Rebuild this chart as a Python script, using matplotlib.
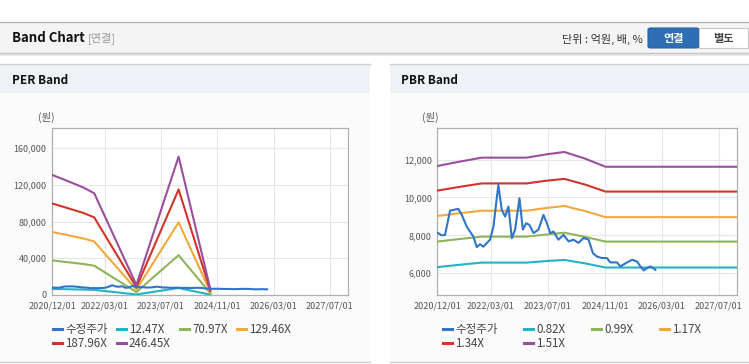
import numpy as np
import pandas as pd
import matplotlib
matplotlib.use("Agg")
from matplotlib import pyplot as plt
from matplotlib.patches import Rectangle, FancyBboxPatch
from matplotlib.ticker import FuncFormatter
import matplotlib.dates as mdates

plt.rcParams['font.family'] = ['Noto Sans CJK KR', 'DejaVu Sans']

W, H = 749, 364

# 수정주가 (adjusted price)
price_dates = ['2020-12-01', '2021-01-08', '2021-02-05', '2021-03-20', '2021-05-29', '2021-06-28',
               '2021-08-09', '2021-10-05', '2021-11-03', '2021-12-01', '2021-12-29', '2022-02-24',
               '2022-03-25', '2022-05-06', '2022-06-04', '2022-07-03', '2022-07-31', '2022-08-29',
               '2022-09-26', '2022-11-02', '2022-12-01', '2022-12-29', '2023-01-26', '2023-03-02',
               '2023-04-13', '2023-05-26', '2023-06-24', '2023-07-22', '2023-08-19', '2023-10-01',
               '2023-11-13', '2023-12-26', '2024-02-06', '2024-03-20', '2024-05-02', '2024-06-14',
               '2024-07-21', '2024-08-24', '2024-10-06', '2024-11-18', '2024-12-16', '2025-02-11',
               '2025-03-12', '2025-05-08', '2025-06-20', '2025-08-01', '2025-08-30', '2025-09-27',
               '2025-10-26', '2025-11-23', '2025-12-16', '2026-01-05']
price = [8140, 8000, 8020, 9300, 9400, 9080, 8460, 7930, 7380, 7530, 7400, 7770,
         8460, 10660, 9340, 8990, 9520, 7850, 8300, 9960, 8300, 8640, 8550, 8120,
         8300, 9080, 8640, 8120, 8200, 7770, 8030, 7680, 7770, 7600, 7860, 7770,
         7060, 6880, 6800, 6800, 6570, 6570, 6360, 6570, 6710, 6620, 6360, 6150,
         6270, 6360, 6270, 6180]

# PER band
per_dates = ['2020-12-01', '2021-03-01', '2021-06-01', '2021-09-01', '2021-12-01',
             '2022-12-01', '2023-12-01', '2024-09-01']
per_labels = ['12.47X', '70.97X', '129.46X', '187.96X', '246.45X']
per_12 = [6620, 6400, 6160, 5920, 5610, 560, 7630, 300]
per_70 = [37700, 36400, 35100, 33700, 31900, 3190, 43400, 1700]
per_129 = [68700, 66400, 64000, 61500, 58300, 5830, 79200, 3100]
per_187 = [99800, 96400, 92900, 89300, 84600, 8460, 115000, 4500]
per_246 = [130900, 126500, 121800, 117000, 110900, 11000, 150800, 6000]

# PBR band
pbr_dates = ['2020-12-01', '2021-06-01', '2021-12-15', '2023-01-01', '2023-06-15',
             '2023-11-20', '2024-05-15', '2024-11-05', '2027-12-05']
pbr_labels = ['0.82X', '0.99X', '1.17X', '1.34X', '1.51X']
pbr_082 = [6320, 6440, 6560, 6560, 6640, 6700, 6520, 6300, 6300]
pbr_099 = [7670, 7800, 7930, 7930, 8040, 8140, 7920, 7670, 7670]
pbr_117 = [9020, 9160, 9300, 9300, 9440, 9550, 9280, 8960, 8960]
pbr_134 = [10360, 10550, 10740, 10740, 10880, 10980, 10680, 10310, 10310]
pbr_151 = [11660, 11880, 12100, 12100, 12270, 12400, 12050, 11620, 11620]

x_ticks = ['2020-12-01', '2022-03-01', '2023-07-01', '2024-11-01', '2026-03-01', '2027-07-01']

price_color = '#3174c8'
band_colors = ['#22b4c4', '#8db45a', '#f2a83c', '#d0342b', '#994f9b']


def fx(px):
    return px / W


def fy(py):
    return 1 - py / H


def rect(fig, x0, y0, x1, y1, **kw):
    fig.patches.append(Rectangle((fx(x0), fy(y1)), fx(x1) - fx(x0), fy(y0) - fy(y1),
                                 transform=fig.transFigure, figure=fig, **kw))


def hline(fig, x0, x1, y, color='#bdbdbd', lw=1.0):
    fig.add_artist(plt.Line2D([fx(x0), fx(x1)], [fy(y), fy(y)], transform=fig.transFigure,
                              color=color, lw=lw))


def band_axes(fig, box, ylim, yticks, bands, band_labels, dates, leg_x, colsp):
    l, t, r, b = box
    ax = fig.add_axes([fx(l), fy(b), fx(r) - fx(l), fy(t) - fy(b)])
    ax.set_zorder(5)
    ax.set_facecolor('white')
    d = pd.to_datetime(dates)
    handles = []
    for vals, c, lab in zip(bands, band_colors, band_labels):
        h, = ax.plot(d, vals, color=c, lw=1.5, label=lab, zorder=3)
        handles.append(h)
    hp, = ax.plot(pd.to_datetime(price_dates), price, color=price_color, lw=1.5,
                  label='수정주가', zorder=4)
    ax.set_xlim(pd.Timestamp('2020-12-01'), pd.Timestamp('2027-12-05'))
    ax.set_ylim(*ylim)
    ax.set_yticks(yticks)
    ax.yaxis.set_major_formatter(FuncFormatter(lambda v, p: f'{v:,.0f}'))
    ax.set_xticks(pd.to_datetime(x_ticks))
    ax.xaxis.set_major_formatter(mdates.DateFormatter('%Y/%m/%d'))
    ax.grid(True, color='#e6e6e6', lw=0.8, zorder=0)
    ax.set_axisbelow(True)
    for s in ax.spines.values():
        s.set_color('#b0b0b0')
        s.set_linewidth(0.9)
    ax.tick_params(length=0, labelsize=6.5, labelcolor='#555555')
    ax.tick_params(axis='x', pad=5)
    ax.tick_params(axis='y', pad=4)
    # legend is filled column by column; order so it reads row by row
    hs = [hp] + handles
    labs = ['수정주가'] + band_labels
    order = [0, 4, 1, 5, 2, 3]
    leg = fig.legend([hs[i] for i in order], [labs[i] for i in order], ncol=4,
                     loc='upper left', bbox_to_anchor=(fx(leg_x), fy(323)),
                     frameon=False, fontsize=8.3, handlelength=0.8, handletextpad=0.25,
                     columnspacing=colsp, labelspacing=0.1, borderaxespad=0, borderpad=0)
    leg.set_zorder(6)
    for ln in leg.get_lines():
        ln.set_linewidth(2.2)
    for tx in leg.get_texts():
        tx.set_color('#444444')
    return ax


fig = plt.figure(figsize=(W / 100, H / 100), dpi=100)
fig.patch.set_facecolor('white')

# top header bar
rect(fig, 0, 22, W, 53, facecolor='#f4f4f4', edgecolor='none')
rect(fig, 0, 53, W, 56, facecolor='#e8e8e8', edgecolor='none')
hline(fig, 0, W, 22, color='#b3b3b3')
hline(fig, 0, W, 53, color='#c4c4c4')
fig.text(fx(12), fy(38), 'Band Chart', fontsize=9.5, fontweight='bold', va='center', color='#111111')
fig.text(fx(88), fy(38), '[연결]', fontsize=8, va='center', color='#999999')
fig.text(fx(643), fy(39), '단위 : 억원, 배, %', fontsize=8, va='center', ha='right', color='#333333')
fig.patches.append(FancyBboxPatch((fx(648), fy(48)), fx(51), fy(28) - fy(48),
                                  boxstyle='round,pad=0,rounding_size=0.004',
                                  transform=fig.transFigure, figure=fig,
                                  facecolor='#2f6db4', edgecolor='#2a62a3', lw=0.8))
fig.text(fx(673.5), fy(38.5), '연결', fontsize=8, fontweight='bold', va='center', ha='center', color='white')
rect(fig, 699, 28, 748, 48, facecolor='white', edgecolor='#c8c8c8', lw=0.8)
fig.text(fx(723.5), fy(38.5), '별도', fontsize=8, fontweight='bold', va='center', ha='center', color='#444444')

# panels
for x0, x1, title, tx in [(0, 370, 'PER Band', 12), (390, W, 'PBR Band', 401)]:
    rect(fig, x0, 64, x1, 93, facecolor='#eef2f7', edgecolor='none')
    rect(fig, x0, 93, x1, 362, facecolor='#fbfbfb', edgecolor='none')
    hline(fig, x0, x1, 64, color='#cfcfcf')
    hline(fig, x0, x1, 362, color='#cfcfcf')
    fig.text(fx(tx), fy(80.5), title, fontsize=8.5, fontweight='bold', va='center', color='#111111')

fig.text(fx(38), fy(117), '(원)', fontsize=7.5, va='center', color='#555555')
fig.text(fx(422), fy(117), '(원)', fontsize=7.5, va='center', color='#555555')

band_axes(fig, (52, 128, 348, 295), (0, 182000), [0, 40000, 80000, 120000, 160000],
          [per_12, per_70, per_129, per_187, per_246], per_labels, per_dates, 53, 0.8)
band_axes(fig, (437.3, 128.3, 737.3, 295), (4850, 13650), [6000, 8000, 10000, 12000],
          [pbr_082, pbr_099, pbr_117, pbr_134, pbr_151], pbr_labels, pbr_dates, 443, 2.3)

fig.savefig('out.png', dpi=100)
